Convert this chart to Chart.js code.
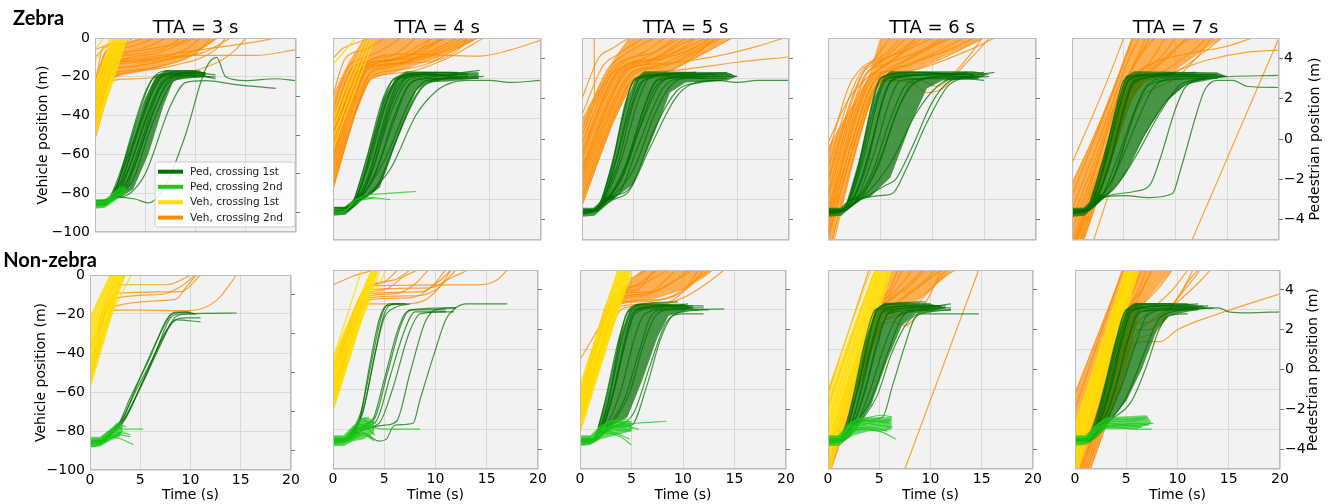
<!DOCTYPE html>
<html><head><meta charset="utf-8">
<script src="https://cdn.jsdelivr.net/npm/chart.js@4.4.1/dist/chart.umd.min.js"></script>
<style>
html,body{margin:0;padding:0;background:#fff;}
#wrap{position:relative;width:1331px;height:504px;overflow:hidden;background:#fff;}
canvas{position:absolute;}
.rowlab{position:absolute;font-family:Lato,"Open Sans",sans-serif;font-weight:bold;font-size:20px;line-height:20px;color:#000;white-space:nowrap;z-index:5;}
</style></head><body>
<div id="wrap">
<div class="rowlab" style="left:13px;top:7px">Zebra</div>
<div class="rowlab" style="right:1234px;top:249px">Non-zebra</div>
</div>
<script>
// ---------- labels / ticks ----------
const ttaValues = [3, 4, 5, 6, 7];
const rowNames = ['Zebra', 'Non-zebra'];
const timeTicks = [0, 5, 10, 15, 20];
const vehTicks = [0, -20, -40, -60, -80, -100];
const pedTicks = [-4, -2, 0, 2, 4];
const legendLabels = ['Ped, crossing 1st', 'Ped, crossing 2nd', 'Veh, crossing 1st', 'Veh, crossing 2nd'];

// ---------- data: each trajectory is a list of [time (s), position (m)] ----------
// vehicle positions on left axis (m), pedestrian positions on right axis (m)
// *_cores: outlines of the densest part of each bundle, [veh1, veh2, ped1, ped2]

// Zebra, TTA = 3 s
const z3_veh1 = [
 [[0,-50],[3.2,0]], [[0,-45],[2.9,0]], [[0,-40],[2.6,0]], [[0,-35],[2.4,0]], [[0,-30],[2.1,0]],
 [[0,-25],[1.8,0]], [[0,-12],[1.6,0]], [[0,-6],[0.9,0]]
];
const z3_veh2 = [
 [[0,-48],[1.5,-18],[2.5,-12],[6,-8],[9,-2],[10,0]],
 [[0,-40],[1.4,-12],[3,-9],[7,-5],[8.5,0]],
 [[0,-35],[1.2,-10],[3,-7],[6,-3],[7,0]],
 [[0,-45],[1.8,-16],[3,-15],[8,-10],[11,-4],[12,0]],
 [[0,-30],[1,-8],[3,-5],[5,-2],[6,0]],
 [[0,-52],[2,-20],[3,-18],[8,-14],[12,-6],[13,0]],
 [[0,-10],[1,-5],[3,-3],[5,0]],
 [[0,-6],[2,-2],[3.5,0]],
 [[0,-42],[1.5,-14],[3,-12],[10,-9],[16,-9],[20,-6]],
 [[0,-38],[1.3,-13],[3,-11],[8,-8],[12,-5],[16,-2],[18,0]],
 [[0,-25],[0.8,-5],[2,-3],[4,0]],
 [[0,-47],[1.7,-19],[3,-17],[6,-15],[10,-8],[11.5,0]],
 [[0,-33],[1.2,-14],[3,-12],[9,-6],[10.5,0]],
 [[0,-44],[1.6,-22],[4,-21],[12,-13],[14,-6],[15,0]],
 [[0,-36],[1.3,-11],[3,-8],[5,-6],[8,-3],[9.5,0]],
 [[0,-43],[1.6,-15],[3,-13],[7,-11],[11,-7],[13.5,0]]
];
const z3_ped1 = [
 [[0,-3.5],[1,-3.5],[1.6,-3.1],[3,-1.2],[5,1.8],[6.3,3.0],[8,3.2],[10,3.2]],
 [[0,-3.6],[1,-3.6],[1.8,-3.0],[3.5,-0.8],[5.5,2.0],[6.8,3.1],[9,3.3],[11,3.2]],
 [[0,-3.4],[1.2,-3.4],[2,-3.0],[2.5,-2.6],[4,-0.3],[6,2.5],[7,3.1],[10,3.2],[12,3.1]],
 [[0,-3.5],[1.3,-3.4],[2.2,-3.1],[3,-2.6],[4.5,-0.5],[6.5,2.5],[7.6,3.0],[10,3.1]],
 [[0,-3.5],[1.5,-3.4],[2.5,-3.1],[3.3,-2.5],[5,0],[7,2.6],[8.3,3.1],[11,3.2]],
 [[0,-3.5],[1.2,-3.3],[2.5,-3.0],[3.8,-2.3],[5.5,0.3],[7.5,2.6],[9,3.0],[12,3.0]],
 [[0,-3.6],[1,-3.5],[2,-3.1],[2.3,-2.5],[3.5,-0.2],[5,2.2],[6.2,3.1],[9,3.2]],
 [[0,-3.5],[1,-3.4],[2,-3.2],[4,-3.3],[5.3,-3.5],[7,-2.6],[9,0],[11,3.4],[12.1,4.0],[13,3.0],[15,2.8],[18,2.9],[20,2.8]],
 [[0,-3.5],[1.5,-3.3],[3.5,-3.0],[5,-2.0],[7.5,1.5],[9,2.7],[11,2.8],[14,2.6],[18,2.4]],
 [[0,-3.5],[1,-3.5],[2,-3.0],[3,-1.8],[4.8,1.2],[6,2.7],[7,3.1],[9.5,3.2]],
 [[0,-3.6],[1.3,-3.5],[2.3,-3.0],[3.2,-2],[5,0.8],[6.7,2.8],[8,3.1],[11.5,3.0]],
 [[0,-3.4],[1.4,-3.3],[2.4,-3.0],[4,-1.5],[6,1.5],[7.8,2.9],[10,3.1],[12,2.9]],
 [[0,-3.6],[1.1,-3.6],[1.9,-3.0],[2.7,-1.8],[4.3,1.0],[5.6,2.8],[7,3.3],[10.5,3.3]],
 [[0,-3.5],[1.2,-3.4],[2.2,-3.0],[3.6,-1.4],[5.7,1.6],[7.2,2.9],[9.5,3.2],[11,3.1]]
];
const z3_ped2 = [
 [[0,-3.6],[1,-3.6],[2,-3.2],[3,-2.8]],
 [[0,-3.4],[1,-3.5],[1.8,-3.0],[2.8,-2.7]],
 [[0,-3.5],[1.2,-3.4],[2.2,-3.1],[3.2,-2.9]],
 [[0,-3.7],[0.8,-3.7],[1.6,-3.3],[2.5,-3.0]],
 [[0,-3.5],[1,-3.4],[2,-3.0],[2.6,-2.6]]
];
const z3_cores = [
 [[[0,-50],[3.2,0],[1.6,0],[0,-22]]],
 [[[0,-50],[1.6,-21],[3,-19],[6,-16],[9,-11],[11.5,-3],[12.3,0],[4.5,0],[3,-2],[2,-3.5],[1,-6],[0,-20]]],
 [[[1.5,-3.2],[2.3,-2.4],[3.5,-0.5],[5,1.8],[6,3.0],[7,3.35],[10,3.35],[11,3.2],[11,3.0],[9,2.9],[7.8,2.8],[6.8,1.5],[5.3,-1.0],[3.8,-2.8],[2.6,-3.2]]],
 [[[0,-3.3],[1,-3.3],[2,-2.9],[3,-2.6],[3.2,-2.9],[2,-3.4],[1,-3.75],[0,-3.8]]]
];

// Zebra, TTA = 4 s
const z4_veh1 = [
 [[0,-55],[4,0]], [[0,-50],[3.7,0]], [[0,-45],[3.4,0]], [[0,-40],[3.1,0]], [[0,-13],[2.2,0]]
];
const z4_veh2 = [
 [[0,-75],[2,-40],[3.5,-18],[5,-15],[10,-8],[14,0]],
 [[0,-65],[2,-32],[3.3,-16],[6,-13],[10,-5],[12,0]],
 [[0,-55],[2,-24],[3,-15],[6,-11],[9,-4],[10.5,0]],
 [[0,-45],[1.8,-18],[3,-12],[6,-8],[8,0]],
 [[0,-35],[1.5,-14],[3,-10],[5,-5],[6.5,0]],
 [[0,-28],[1.2,-10],[3,-6],[5,0]],
 [[0,-70],[2.2,-35],[3.8,-20],[7,-17],[11,-10],[14.5,0]],
 [[0,-60],[2,-28],[3.5,-14],[8,-10],[12,-3],[13,0]],
 [[0,-50],[2,-22],[3.5,-11],[7,-8],[14,-9],[17,-6],[20,-1]],
 [[0,-40],[1.7,-16],[3.2,-12],[7,-10],[10,-2],[11,0]],
 [[0,-73],[2.1,-38],[3.7,-19],[6,-16],[9,-13],[12,-5],[13.5,0]],
 [[0,-58],[2,-26],[3.4,-13],[5,-11],[8,-7],[9.5,0]],
 [[0,-52],[1.9,-21],[3.3,-14],[9,-12],[12,-6],[13,0]],
 [[0,-10],[1,-5],[2.5,-2],[3.5,0]],
 [[0,-68],[2.1,-33],[3.6,-17],[5,-14],[8,-10],[11,-4],[12.5,0]],
 [[0,-62],[2,-30],[3.4,-15],[7,-12],[9.5,-4],[10.5,0]],
 [[0,-47],[1.9,-20],[3.2,-13],[6,-10],[8.5,-3],[9.5,0]]
];
const z4_ped1 = [
 [[0,-3.6],[1,-3.6],[2,-3.0],[3.2,-1.0],[4.8,2],[6,3.0],[9,3.2],[12,3.1]],
 [[0,-3.5],[1.2,-3.5],[2.3,-3.0],[3,-2.5],[4.5,0],[6.2,2.6],[7.5,3.1],[11,3.3],[13,3.2]],
 [[0,-3.7],[1.1,-3.6],[2.5,-2.9],[3.5,-2],[5.5,1.2],[7,2.8],[8.5,3.1],[13,3.2]],
 [[0,-3.5],[1.2,-3.4],[2.7,-2.9],[4.2,-1.5],[6,1.3],[7.5,2.8],[9,3.0],[14,3.0]],
 [[0,-3.6],[1,-3.6],[2.6,-3.0],[4.5,-2.2],[6.5,0.5],[8.5,2.5],[10,2.9],[14.5,3.1]],
 [[0,-3.6],[1.3,-3.5],[3,-2.9],[5.5,-1.5],[8,1.2],[10,2.4],[11.5,2.8],[13,2.9],[15,2.9],[17,2.8],[20,2.9]],
 [[0,-3.5],[1,-3.5],[2,-3.1],[2.8,-2.2],[4,0],[5.5,2.4],[6.5,3.1],[9,3.3],[12,3.3]],
 [[0,-3.6],[1.2,-3.5],[2.4,-3.0],[3.8,-1.5],[5.5,1.5],[6.8,2.9],[8,3.2],[10.5,3.2],[14.1,3.4]],
 [[0,-3.4],[1.1,-3.4],[2.2,-3.0],[3.4,-1.8],[5.3,1.6],[6.5,3.0],[10,3.2]],
 [[0,-3.6],[1.2,-3.6],[2.5,-3.0],[5,-1.0],[7.5,2.0],[9,2.9],[12.5,3.0]],
 [[0,-3.5],[1.3,-3.4],[2.6,-2.9],[4,-2.5],[6,-0.2],[8,2.2],[9.5,2.9],[13,3.1]],
 [[0,-3.5],[1,-3.5],[2.1,-3.0],[3.6,-1.0],[5,1.6],[6.3,3.0],[8.5,3.2],[11.5,3.1]],
 [[0,-3.6],[1.1,-3.5],[2.2,-3.0],[3.1,-1.6],[4.4,1.0],[5.7,2.9],[7,3.2],[10,3.3]],
 [[0,-3.5],[1.2,-3.5],[2.5,-3.0],[3.9,-1.9],[5.8,0.8],[7.2,2.6],[8.8,3.0],[12,3.2]]
];
const z4_ped2 = [
 [[0,-3.6],[1,-3.6],[2,-3.1],[3,-2.8],[5,-2.7],[8,-2.6]],
 [[0,-3.5],[1.2,-3.5],[2.2,-3.0],[3.5,-2.9],[5.5,-3.0]],
 [[0,-3.7],[1,-3.6],[2.4,-3.1],[4,-2.9]]
];
const z4_cores = [
 [],
 [[[0,-75],[2,-40],[3.6,-20],[6,-17],[10,-10],[13,-3],[14,0],[3,0],[1.5,-12],[0,-28]]],
 [[[2,-3.0],[3.2,-1.0],[4.8,2.0],[6,3.0],[7,3.35],[12,3.3],[14,3.3],[14,3.0],[11,2.85],[9,2.8],[8,2.4],[6,-0.2],[4.5,-2.4],[3,-3.0]],
  [[0,-3.35],[1.1,-3.35],[2,-3.0],[2.6,-2.7],[3,-2.9],[2.2,-3.3],[1.2,-3.75],[0,-3.8]]],
 []
];

// Zebra, TTA = 5 s
const z5_veh1 = [];
const z5_veh2 = [
 [[0,-83],[3,-42],[5,-22],[8,-17],[12,-7],[14.5,0]],
 [[0,-75],[3,-35],[4.7,-19],[8,-14],[11,-6],[13,0]],
 [[0,-68],[3,-28],[4.5,-16],[7,-12],[10,-4],[11,0]],
 [[0,-60],[3,-22],[4.3,-14],[6,-10],[8.5,-3],[9.5,0]],
 [[0,-52],[2.8,-18],[4,-12],[6,-7],[8,0]],
 [[0,-45],[2.4,-16],[3.6,-10],[5.5,-4],[7,0]],
 [[0,-38],[2,-14],[3.5,-8],[5,-3],[6,0]],
 [[0,-78],[3,-38],[5,-20],[9,-16],[15,-12],[20,-9.4]],
 [[0,-70],[3,-31],[4.8,-17],[7,-14],[13,-9],[17,-4],[19.5,0]],
 [[0,-64],[3,-25],[4.4,-15],[9,-12],[12,-4],[13.5,0]],
 [[0,-56],[2.9,-20],[4.2,-13],[7,-10],[10,-2],[11,0]],
 [[0,-80],[3,-40],[5,-21],[7,-19],[10,-12],[12,-4],[13,0]],
 [[0,-48],[2.6,-17],[4,-11],[7,-7],[9,0]],
 [[0,-30],[1.6,-10],[3,-5],[4.5,0]],
 [[1.18,0],[1.2,-32],[1.8,-26],[3,-17],[6,-12],[10,-5],[12,0]],
 [[0,-72],[3,-33],[4.6,-18],[6.5,-15],[9.5,-9],[12.5,0]],
 [[0,-66],[3,-27],[4.4,-15],[6,-13],[8,-7],[10,0]],
 [[0,-58],[2.9,-21],[4.2,-14],[8,-10],[11.5,-3],[12.3,0]]
];
const z5_ped1 = [
 [[0,-3.6],[1,-3.6],[1.8,-3.1],[3,-1.0],[4.2,1.8],[5.2,3.0],[8,3.2],[12,3.1]],
 [[0,-3.6],[1.1,-3.6],[2,-3.0],[3.3,-1.5],[5,1.8],[6,2.9],[9,3.2],[13,3.2]],
 [[0,-3.5],[1.2,-3.5],[2.2,-3.0],[3.8,-1.0],[5.5,2.0],[6.5,3.0],[10,3.2],[14,3.3]],
 [[0,-3.7],[1,-3.6],[2.5,-2.9],[4.3,-1.2],[6.2,1.8],[7.3,2.9],[11,3.1],[15,3.1]],
 [[0,-3.6],[1.2,-3.5],[3,-2.8],[5,-1.5],[7,1.2],[8.5,2.6],[10,3.0],[14,3.0]],
 [[0,-3.6],[1.3,-3.5],[3,-3.0],[4.5,-2.6],[6.5,-0.5],[9,2.0],[10.5,2.7],[13,2.9],[15,2.8],[17,2.9],[20,2.9]],
 [[0,-3.5],[1,-3.5],[1.9,-3.0],[2.7,-1.8],[4,1.2],[5,2.9],[7,3.2],[11,3.3]],
 [[0,-3.6],[1.1,-3.6],[2.3,-3.0],[3.5,-2.3],[5.8,0.8],[7.5,2.7],[9,3.1],[12.5,3.2]],
 [[0,-3.6],[1.2,-3.5],[2.8,-2.9],[4.8,-2.3],[7,0.5],[9.2,2.4],[11.5,2.8],[13.5,2.9]],
 [[0,-3.5],[1,-3.5],[2.1,-3.0],[3.2,-1.2],[4.6,1.7],[5.6,3.0],[9,3.2],[14.5,3.2]],
 [[0,-3.6],[1.2,-3.6],[2.6,-2.9],[4,-1.6],[6,1.6],[7,2.8],[8.5,3.1],[12,3.0]],
 [[0,-3.7],[1.1,-3.6],[2.4,-3.0],[3.7,-2.6],[5.3,-0.5],[7.8,2.5],[9.5,3.0],[13,3.1]],
 [[0,-3.6],[1.1,-3.6],[2,-3.1],[3,-1.6],[4.5,1.2],[5.7,2.8],[8,3.2],[11,3.3]],
 [[0,-3.5],[1.2,-3.5],[2.4,-3.0],[4,-1.8],[5.8,0.9],[7,2.5],[8.5,3.0],[13.5,3.1]]
];
const z5_ped2 = [];
const z5_cores = [
 [],
 [[[0,-83],[3,-42],[5,-21],[8,-17],[12,-7],[14.5,0],[4.5,0],[3,-11],[0,-40]]],
 [[[1.8,-3.1],[3,-1.0],[4.2,1.8],[5.2,3.0],[6,3.35],[14,3.3],[15,3.1],[14,2.9],[10,2.8],[8.5,2.3],[7,0.3],[5,-2.2],[3,-3.0]],
  [[0,-3.4],[1.1,-3.4],[2,-3.0],[2.8,-2.7],[3.2,-2.9],[2.3,-3.3],[1.2,-3.8],[0,-3.85]]],
 []
];

// Zebra, TTA = 6 s
const z6_veh1 = [];
const z6_veh2 = [
 [[0,-100],[2,-62],[4,-30],[5.2,-20],[8,-13],[12,-5],[14,0]],
 [[0,-95],[2,-57],[4,-26],[5,-18],[7,-12],[10,-4],[11.5,0]],
 [[0,-88],[2,-50],[3.8,-22],[5,-15],[7,-8],[9,0]],
 [[0,-80],[2,-43],[3.6,-19],[5,-12],[6.5,-5],[7.5,0]],
 [[0,-72],[2,-36],[3.4,-17],[4.5,-10],[6,0]],
 [[0,-65],[2,-30],[3.3,-16],[5,-11],[8,-5],[10,0]],
 [[0,-58],[2,-24],[3.2,-15],[5.5,-8],[7,0]],
 [[0.4,-100],[2.5,-58],[4.3,-28],[5.5,-20],[9,-15],[14,-5],[16,0]],
 [[0,-98],[2.2,-58],[4.2,-27],[5.5,-21],[8,-22],[9.5,-27],[11,-25],[13,-14],[15,-3],[15.5,0]],
 [[0,-85],[2,-47],[3.8,-21],[6,-16],[10,-8],[13,0]],
 [[0,-77],[2,-40],[3.6,-18],[5.5,-13],[9,-6],[11,0]],
 [[0,-52],[2,-30],[3.7,-20],[6,-12],[8.5,0]],
 [[0.6,-100],[3,-50],[5,-22],[7,-18],[11,-10],[15,0]],
 [[0,-92],[2.1,-55],[4,-25],[5.3,-19],[9,-21],[10.5,-24],[12,-18],[14,-6],[14.8,0]],
 [[0,-90],[2,-52],[3.9,-23],[5.5,-17],[8,-10],[11,-2],[12,0]],
 [[0,-70],[2,-34],[3.4,-17],[5,-12],[7,-6],[8.5,0]]
];
const z6_ped1 = [
 [[0,-3.6],[1.2,-3.6],[2,-3.0],[3.2,-0.8],[4.5,2.2],[5.3,3.1],[9,3.3],[13,3.2]],
 [[0,-3.6],[1,-3.6],[2.2,-2.9],[3.5,-0.8],[5,2.3],[5.8,3.0],[10,3.2],[14,3.2]],
 [[0,-3.7],[1.3,-3.6],[2.6,-2.8],[4,-0.6],[5.5,2.3],[6.4,3.0],[11,3.2],[15,3.3]],
 [[0,-3.6],[1.2,-3.5],[2.8,-2.9],[4.5,-0.6],[6,2.0],[7,2.9],[12,3.0],[15.5,3.1]],
 [[0,-3.6],[1.4,-3.5],[3.2,-2.9],[5,-1.0],[7,1.8],[8.2,2.8],[12,3.1],[14.5,3.0]],
 [[0,-3.6],[1.3,-3.5],[3.5,-2.9],[5.5,-2.3],[6.5,-2.0],[8,-0.5],[10,1.8],[11.5,2.8],[13,3.0],[15,2.9]],
 [[0,-3.7],[1.2,-3.6],[3,-3.0],[5,-2.8],[6.2,-2.7],[7.5,-1.5],[9.5,0.8],[11.5,2.6],[12.8,3.0],[16,3.3]],
 [[0,-3.6],[1.1,-3.6],[1.9,-3.1],[2.8,-1.6],[4.2,1.7],[5,3.0],[8,3.3],[12,3.2]],
 [[0,-3.5],[1.2,-3.5],[2.4,-3.0],[3.8,-1.2],[5.2,1.8],[6.2,2.9],[9.5,3.2],[13.5,3.3]],
 [[0,-3.6],[1.3,-3.6],[3,-2.9],[4.8,-1.4],[6.5,1.2],[8,2.6],[9.5,3.0],[14,3.1]],
 [[0,-3.6],[1.5,-3.5],[3.5,-2.8],[6,-1.2],[8.5,1.3],[10.5,2.6],[12,3.0],[15,3.1]],
 [[0,-3.6],[1.2,-3.5],[2.2,-3.1],[3.3,-1.8],[4.8,1.0],[5.8,2.7],[7,3.1],[12.5,3.2]],
 [[0,-3.5],[1.1,-3.5],[2.1,-3.0],[3,-1.5],[4.4,1.5],[5.4,2.9],[8.5,3.2],[13,3.2]],
 [[0,-3.6],[1.3,-3.6],[2.9,-2.9],[4.3,-1.6],[6,1.0],[7.4,2.6],[9,3.0],[14,3.2]]
];
const z6_ped2 = [];
const z6_cores = [
 [],
 [[[0.5,-100],[2.5,-58],[4.3,-28],[5.5,-20],[9,-14],[13,-5],[15,0],[5,0],[3.9,-19],[0,-54],[0,-100]]],
 [[[1.8,-3.1],[3,-1.0],[4.4,2.0],[5.3,3.05],[6,3.35],[14,3.35],[15.5,3.2],[14,2.95],[11,2.9],[9.5,2.5],[8,0.8],[6,-1.9],[4,-2.9]],
  [[0,-3.4],[1.2,-3.4],[2,-3.0],[2.8,-2.8],[3.2,-3.0],[2.3,-3.3],[1.3,-3.8],[0,-3.85]]],
 []
];

// Zebra, TTA = 7 s
const z7_veh1 = [];
const z7_veh2 = [
 [[0,-72],[2,-50],[4,-25],[5.8,0]],
 [[0,-85],[2.5,-52],[4.5,-24],[5.5,-10],[6.5,0]],
 [[0,-95],[2.5,-60],[4.8,-27],[6,-14],[7.5,0]],
 [[0.3,-100],[3,-62],[5,-32],[6,-20],[7.5,-12],[9,0]],
 [[0.6,-100],[3.2,-62],[5.2,-33],[6.3,-22],[8,-15],[10,-6],[11,0]],
 [[0.9,-100],[3.5,-63],[5.5,-33],[6.5,-23],[9,-16],[12,-5],[13,0]],
 [[1.1,-100],[3.7,-62],[5.8,-30],[7,-22],[10,-17],[13,-6],[14.5,0]],
 [[0.2,-100],[2.8,-62],[5,-30],[6.2,-18],[8,-12],[11,-8],[15,-4],[17.4,0]],
 [[0.5,-100],[3,-60],[5,-30],[6.4,-21],[9,-18],[13,-11],[17,-7],[20,-6]],
 [[2.1,-100],[4,-70],[6,-38],[7,-28],[8,-25],[10,-20],[12,-10],[13.5,0]],
 [[11.6,-100],[20,0]],
 [[0,-100],[2.3,-65],[4.3,-32],[5.5,-18],[6.7,-5],[7.1,0]],
 [[0,-78],[2.2,-50],[4.3,-22],[5.3,-8],[5.9,0]],
 [[0.8,-100],[3.4,-60],[5.3,-30],[6.5,-20],[8.5,-12],[10.5,-3],[11.5,0]],
 [[0,-62],[1.7,-42],[3.5,-20],[5,0]],
 [[0,-90],[2.4,-58],[4.6,-27],[5.8,-15],[7,-6],[8,0]],
 [[0.4,-100],[3.1,-61],[5.1,-31],[6.3,-19],[8.5,-10],[10,0]]
];
const z7_ped1 = [
 [[0,-3.6],[1,-3.6],[1.8,-3.1],[3,-1],[4.5,1.8],[5.3,3.1],[9,3.2],[13,3.1]],
 [[0,-3.6],[1.1,-3.6],[2.1,-3.0],[3.4,-0.8],[4.8,2.0],[5.6,3.0],[10,3.2],[14,3.2]],
 [[0,-3.7],[1.2,-3.6],[2.4,-3.0],[3.8,-0.8],[5.2,1.9],[6,2.9],[11,3.2],[15,3.1]],
 [[0,-3.5],[1,-3.5],[2,-3.1],[3.2,-1.2],[4.6,1.6],[5.5,2.9],[8,3.2],[12,3.3]],
 [[0,-3.6],[1.3,-3.5],[2.8,-2.9],[4.5,-0.8],[6.2,1.6],[7.5,2.7],[11,3.0],[14.5,3.1]],
 [[0,-3.6],[1.2,-3.6],[3,-2.9],[5,-1.8],[7,0.2],[9,1.8],[11,2.7],[13,3.0],[20,3.15]],
 [[0,-3.6],[1.4,-3.5],[3,-2.9],[5,-2.8],[7.5,-2.9],[9.7,-2.7],[10.5,-1.5],[12,1.2],[12.8,2.4],[14,2.9],[15.5,2.9],[17,2.6],[20,2.55]],
 [[0,-3.6],[1.3,-3.5],[3,-2.9],[6,-2.6],[7.5,-2.3],[8.5,-1.0],[10,1.5],[11,2.6],[13,3.0]],
 [[0,-3.6],[1.2,-3.5],[2.6,-3.0],[4,-2.5],[6,-1],[8.5,1.3],[10.5,2.7],[13,3.0]],
 [[0,-3.5],[1.1,-3.5],[2.2,-3.0],[3.6,-1.3],[5,1.4],[6,2.8],[9,3.1],[12.5,3.1]],
 [[0,-3.6],[1.2,-3.6],[2.7,-3.0],[4.2,-1.7],[6,0.5],[7.8,2.5],[9,2.9],[14,3.0]],
 [[0,-3.7],[1,-3.6],[1.9,-3.1],[2.8,-1.8],[4.1,1.2],[5,2.9],[7,3.2],[10,3.3]],
 [[0,-3.6],[1.1,-3.6],[2.3,-3.0],[3.5,-1.5],[4.9,1.2],[5.9,2.8],[8,3.1],[12,3.2]],
 [[0,-3.5],[1.2,-3.5],[2.5,-3.0],[4,-1.9],[5.6,0.6],[6.9,2.4],[8.5,3.0],[13.5,3.1]]
];
const z7_ped2 = [];
const z7_cores = [
 [],
 [[[0,-100],[1.2,-100],[3.7,-62],[5.8,-30],[7,-22],[10,-16],[13,-5],[14.5,0],[5.8,0],[4,-25],[2,-50],[0,-72]]],
 [[[1.7,-3.1],[3,-1.0],[4.4,1.8],[5.2,3.1],[6,3.35],[14,3.3],[15,3.1],[13,2.9],[11,2.7],[9,1.8],[7,0.2],[5,-1.8],[3.2,-2.9]],
  [[0,-3.4],[1.1,-3.4],[2,-3.0],[2.8,-2.7],[3.2,-2.9],[2.3,-3.3],[1.2,-3.8],[0,-3.85]]],
 []
];

// Non-zebra, TTA = 3 s
const n3_veh1 = [
 [[0,-58],[3.3,0]], [[0,-50],[3.0,0]], [[0,-45],[2.8,0]], [[0,-40],[2.6,0]], [[0,-35],[2.5,0]],
 [[0,-30],[2.4,0]], [[0,-25],[2.2,0]], [[0,-48],[3.5,0]], [[0,-42],[4.1,0]], [[0,-22],[2.0,0]],
 [[0,-55],[3.1,0]], [[0,-38],[2.9,0]]
];
const n3_veh2 = [
 [[0,-55],[2.3,-18],[5,-18],[9.8,-18.3],[12.6,-13],[14.6,0]],
 [[0,-52],[2.5,-16],[8.5,-12.5],[9.6,-6],[10.6,0]],
 [[0,-45],[2.5,-9.5],[9.1,-8.5],[11,0]],
 [[0,-40],[2.6,-5],[7.6,-5],[10.1,0]],
 [[0,-38],[2.7,-7],[3.5,0]],
 [[0,-48],[2.4,-12],[7,-10],[9,-6],[10.5,0]]
];
const n3_ped1 = [
 [[0,-3.6],[1,-3.6],[2,-3.1],[2.8,-2.7],[4,-1.3],[6,0.8],[7.6,2.7],[8.5,3.1],[10,3.1]],
 [[0,-3.5],[1.2,-3.5],[2.2,-3.0],[3,-2.6],[4.5,-1.0],[6.5,1.0],[8,2.8],[9,3.0],[10.5,3.0]],
 [[0,-3.6],[1.1,-3.6],[2.4,-3.0],[3.3,-2.5],[5,-0.8],[7,1.4],[8.4,2.8],[9.5,3.0],[14.6,3.05]],
 [[0,-3.6],[1.3,-3.5],[2.6,-2.9],[3.6,-2.2],[5.5,-0.2],[7.3,1.9],[8.5,2.7],[9.5,2.8],[11,2.8]],
 [[0,-3.5],[1,-3.5],[2.2,-2.9],[3.2,-2.4],[4.8,-0.5],[6.8,1.8],[8.2,3.0],[9.5,3.1],[10.5,3.0]],
 [[0,-3.6],[1.2,-3.5],[2.5,-3.0],[3.5,-2.4],[5.2,-0.5],[7.1,1.6],[8.6,2.7],[11,2.6]]
];
const n3_ped2 = [
 [[0,-3.6],[1,-3.6],[2,-3.1],[3,-2.9],[5.3,-2.9]],
 [[0,-3.5],[1,-3.6],[2,-3.3],[3,-3.4],[4.3,-3.7]],
 [[0,-3.6],[1.2,-3.5],[2.2,-3.0],[3.2,-2.8]],
 [[0,-3.7],[0.8,-3.7],[1.8,-3.2],[2.8,-2.6],[3.2,-2.7]],
 [[0,-3.5],[1,-3.4],[2,-3.0],[3,-3.1]],
 [[0,-3.8],[1,-3.7],[2,-3.4],[3,-3.2],[4,-3.3]],
 [[0,-3.4],[1.1,-3.4],[2.1,-3.0],[2.9,-2.8],[3.1,-2.5]],
 [[0,-3.6],[1,-3.5],[1.7,-3.3],[2.5,-3.2],[3.3,-3.0]],
 [[0,-3.5],[1.1,-3.6],[2.1,-3.2],[3.1,-2.7],[3.6,-2.8]],
 [[0,-3.7],[1.2,-3.6],[2.3,-3.3],[3.3,-3.1],[4,-3.2]]
];
const n3_cores = [
 [[[0,-58],[3.4,0],[2.0,0],[0,-22]]],
 [],
 [],
 [[[0,-3.3],[1,-3.3],[2,-2.9],[3,-2.6],[3.3,-2.8],[3,-3.3],[2,-3.5],[1,-3.8],[0,-3.85]]]
];

// Non-zebra, TTA = 4 s
const n4_veh1 = [
 [[0,-70],[4.3,0]], [[0,-65],[4.1,0]], [[0,-60],[4.0,0]], [[0,-55],[3.9,0]], [[0,-50],[3.8,0]],
 [[0,-45],[3.8,0]], [[0,-62],[4.6,0]], [[0,-52],[5.2,0]], [[0,-45],[2.8,0]], [[0,-67],[4.4,0]],
 [[0,-57],[4.2,0]]
];
const n4_veh2 = [
 [[0,-7.5],[2,-3],[4,0]],
 [[0,-70],[3.4,-17],[7,-17],[9,-15],[10.5,-8],[11.5,0]],
 [[0,-65],[3.4,-14],[8,-13],[10,-10],[12,0]],
 [[0,-60],[3.3,-12],[8.5,-11],[10.5,-5],[11.5,0]],
 [[0,-55],[3.3,-10],[9.5,-9],[11.5,-4],[13.2,0]],
 [[0,-58],[3.6,-8],[14,-7.5],[16,-5],[17,0]],
 [[0,-50],[3.3,-12],[5,-10],[7,-3],[8.3,0]],
 [[0,-52],[3.2,-10],[5,-6],[6.3,0]],
 [[0,-62],[3.5,-15],[7.5,-14],[9.5,-9],[11,0]],
 [[0,-48],[3.3,-9],[6,-5],[7.5,0]],
 [[0,-66],[3.5,-13],[6,-12],[8,-7],[9.3,0]]
];
const n4_ped1 = [
 [[0,-3.6],[1,-3.6],[2,-3.0],[2.6,-2.5],[3.5,0],[4.5,2.5],[5.2,3.2],[7.2,3.3]],
 [[0,-3.5],[1.2,-3.5],[2.2,-2.8],[2.8,-2.0],[3.8,0.5],[4.8,2.8],[5.5,3.3],[6.5,3.3]],
 [[0,-3.6],[1,-3.6],[2.4,-2.8],[3.2,-1.5],[4.2,1.0],[5,2.6],[6,3.1],[7.5,3.3]],
 [[0,-3.6],[1.2,-3.5],[2.5,-2.9],[3.8,-2.6],[5,-0.5],[6.2,1.8],[7,2.8],[8,3.0],[11,3.0]],
 [[0,-3.5],[1.1,-3.5],[2.5,-2.8],[4,-2.5],[5.3,-0.2],[6.6,2.2],[7.5,3.0],[12,3.1]],
 [[0,-3.6],[1.2,-3.6],[2.8,-2.9],[4.2,-2.6],[5.6,-0.3],[7,2.0],[8,2.9],[11.8,2.9]],
 [[0,-3.6],[1.3,-3.5],[3,-3.0],[5,-2.8],[6.2,-2.6],[7.5,-0.2],[9,2.4],[10,3.0],[12,3.1]],
 [[0,-3.7],[1.3,-3.6],[3,-3.2],[4.5,-3.6],[5.2,-3.5],[6,-2.8],[7.8,-2.7],[8.5,-1.5],[10,1.0],[11,2.5],[12,3.1],[13,3.3],[17,3.3]],
 [[0,-3.6],[1.2,-3.5],[2.7,-3.0],[4.5,-2.7],[5.8,-1.0],[7.4,1.8],[8.5,2.8],[11,2.9]],
 [[0,-3.5],[1,-3.5],[2.2,-3.0],[2.9,-2.2],[3.9,0.3],[5,2.8],[6,3.3],[7,3.3]]
];
const n4_ped2 = [
 [[0,-3.6],[1,-3.6],[2,-3.0],[3,-2.6],[4.2,-2.7]],
 [[0,-3.5],[1,-3.5],[2.2,-3.1],[3.5,-2.9],[5,-3.0],[8.5,-3.0]],
 [[0,-3.7],[1,-3.7],[2,-3.3],[3,-3.2],[4,-3.6]],
 [[0,-3.4],[1,-3.4],[2,-2.9],[2.8,-2.5],[3.6,-2.7]],
 [[0,-3.6],[1.2,-3.6],[2.3,-3.2],[3.3,-3.0],[4.1,-3.3]],
 [[0,-3.8],[1,-3.8],[2,-3.5],[3,-3.3],[3.8,-3.5]],
 [[0,-3.5],[1,-3.5],[1.8,-3.1],[2.5,-2.6],[3.5,-2.4]],
 [[0,-3.6],[1.1,-3.6],[2.4,-3.2],[3.2,-3.0],[4.2,-2.9]],
 [[0,-3.7],[1.1,-3.6],[2.2,-3.1],[3.1,-2.8],[4,-3.0]]
];
const n4_cores = [
 [[[0,-72],[4.4,0],[3.7,0],[0,-43]]],
 [],
 [],
 [[[0,-3.3],[1,-3.3],[2,-2.8],[3,-2.4],[4,-2.5],[4,-3.2],[3,-3.5],[2,-3.6],[1,-3.8],[0,-3.85]]]
];

// Non-zebra, TTA = 5 s
const n5_veh1 = [
 [[0,-82],[4.9,0]], [[0,-78],[4.7,0]], [[0,-74],[4.5,0]], [[0,-70],[4.3,0]], [[0,-66],[4.1,0]],
 [[0,-62],[3.9,0]], [[0,-58],[3.7,0]], [[0,-76],[5.1,0]], [[0,-68],[4.6,0]], [[0,-80],[4.4,0]],
 [[0,-72],[4.2,0]], [[0,-64],[4.4,0]]
];
const n5_veh2 = [
 [[0,-45],[2.9,-20],[4,-12],[6,-6],[7.5,0]],
 [[0,-75],[4,-15],[6,-13],[8,-9],[10,-3],[11,0]],
 [[0,-70],[3.8,-12],[7,-11],[9,-6],[10.5,0]],
 [[0,-72],[3.9,-17],[6,-16],[9,-13],[11.5,-4],[12.5,0]],
 [[0,-66],[3.7,-10],[5.5,-8],[7.5,-3],[8.5,0]],
 [[0,-78],[4.3,-19],[7,-18],[10,-14],[12.5,-6],[14,0]],
 [[0,-68],[3.6,-14],[6.5,-12],[8.5,-4],[9.3,0]],
 [[0,-62],[3.4,-8],[5,-4],[6.5,0]],
 [[0,-74],[4.1,-18],[8,-17],[10,-11],[11.5,0]],
 [[0,-64],[3.5,-12],[5.5,-10],[7.2,0]],
 [[0,-76],[4.2,-16],[7.5,-15],[10.5,-9],[12,0]]
];
const n5_ped1 = [
 [[0,-3.6],[1,-3.6],[1.8,-2.9],[2.6,-1.2],[3.8,1.6],[4.8,3.0],[7,3.3],[10,3.2]],
 [[0,-3.6],[1.1,-3.6],[2,-2.9],[3,-1.0],[4.2,1.8],[5.1,3.0],[8,3.2],[11,3.1]],
 [[0,-3.5],[1.2,-3.5],[2.3,-2.8],[3.4,-0.8],[4.7,2.0],[5.5,3.0],[9,3.2],[12,3.2]],
 [[0,-3.6],[1.2,-3.6],[2.6,-2.8],[4,-1.0],[5.3,1.6],[6.3,2.8],[9,3.1],[11.5,3.0]],
 [[0,-3.7],[1.3,-3.6],[3,-2.8],[4.8,-1.2],[6.2,1.3],[7.2,2.6],[8.5,3.0],[12.5,3.0]],
 [[0,-3.6],[1.3,-3.5],[3.2,-2.9],[5.2,-2.2],[6.8,0.2],[8.2,2.2],[9,2.7],[10,2.8],[12,2.8]],
 [[0,-3.6],[1.2,-3.6],[3,-2.9],[5,-2.8],[6.5,-0.8],[7.8,1.5],[8.8,2.6],[10,2.9],[14,3.05]],
 [[0,-3.6],[1,-3.6],[1.9,-3.0],[2.8,-1.6],[3.6,0.8],[4.5,2.8],[6,3.3],[9.5,3.4]],
 [[0,-3.5],[1.1,-3.5],[2.2,-2.9],[3.2,-1.3],[4.4,1.3],[5.3,2.8],[7.5,3.1],[10.5,3.3]],
 [[0,-3.6],[1.2,-3.6],[2.8,-2.8],[4.3,-1.5],[5.8,1.0],[6.8,2.6],[8,3.0],[12,3.1]],
 [[0,-3.5],[1.1,-3.5],[2.1,-2.9],[3.1,-1.4],[4.3,1.4],[5.2,2.9],[8,3.2],[11,3.2]]
];
const n5_ped2 = [
 [[0,-3.6],[1,-3.6],[2,-3.0],[3,-2.6],[4,-2.7],[5,-2.8]],
 [[0,-3.5],[1,-3.5],[2.2,-3.0],[3.5,-2.8],[5.5,-2.7],[8.4,-2.6]],
 [[0,-3.7],[1,-3.7],[2.5,-3.2],[4,-3.4],[5,-3.8]],
 [[0,-3.6],[1.2,-3.6],[2.5,-3.0],[3.8,-2.8],[5.7,-3.0]],
 [[0,-3.4],[1,-3.4],[2,-2.9],[3,-2.6],[4.6,-2.5]],
 [[0,-3.6],[1,-3.6],[2.3,-3.1],[3.5,-3.2],[4.8,-3.5]],
 [[0,-3.8],[1,-3.7],[2,-3.3],[3.2,-3.0],[4.5,-3.1],[5.2,-2.9]],
 [[0,-3.5],[1.1,-3.5],[2.4,-3.0],[3.6,-2.9],[5,-3.1]],
 [[0,-3.6],[1.2,-3.6],[2.3,-3.1],[3.4,-2.7],[4.9,-2.6]]
];
const n5_cores = [
 [[[0,-82],[5.0,0],[3.6,0],[0,-58]]],
 [[[3.6,-17],[7,-15],[10,-10],[12,-4],[13,0],[6,0],[4.2,-8]]],
 [[[1.7,-2.9],[2.6,-1.2],[3.8,1.6],[4.8,3.0],[5.5,3.3],[10,3.3],[11,3.1],[10,2.9],[8.6,2.7],[7.5,1.6],[6,-0.6],[4.6,-2.4],[2.8,-2.9]]],
 [[[0,-3.3],[1,-3.3],[2,-2.8],[3,-2.5],[5,-2.6],[5,-3.1],[3.5,-3.3],[2,-3.5],[1,-3.8],[0,-3.85]]]
];

// Non-zebra, TTA = 6 s
const n6_veh1 = [
 [[0,-70],[4.6,0]], [[0,-75],[4.9,0]], [[0,-80],[5.2,0]], [[0,-85],[5.5,0]], [[0,-90],[5.8,0]],
 [[0,-95],[6.0,0]], [[0.2,-100],[6.2,0]], [[0,-82],[5.0,0]], [[0,-88],[5.3,0]], [[0,-60],[4.2,0]],
 [[0,-77],[4.8,0]], [[0,-92],[5.6,0]]
];
const n6_veh2 = [
 [[0,-68],[4.6,0]],
 [[0,-100],[3,-55],[5,-25],[6,-16],[8,-8],[9.5,0]],
 [[0.1,-100],[3.2,-55],[5.2,-25],[6.5,-18],[9,-8],[11,0]],
 [[0,-96],[3,-52],[5,-22],[6,-14],[7.5,-5],[8.2,0]],
 [[0.3,-100],[3.3,-55],[5.4,-26],[7,-22],[9,-14],[11.5,-3],[12.4,0]],
 [[0,-92],[3,-48],[4.8,-20],[6,-12],[7.3,0]],
 [[7.5,-100],[14.7,0]],
 [[0,-98],[3.1,-54],[5.3,-26],[6.5,-24],[8,-20],[10,-10],[11.5,0]],
 [[0,-88],[2.8,-45],[4.6,-18],[6,-10],[6.8,0]],
 [[0.2,-100],[3.2,-56],[5.2,-28],[6.2,-26],[7.5,-28],[8.5,-24],[10,-12],[11,0]],
 [[0,-62],[4.0,0]],
 [[0,-94],[3,-50],[5,-24],[7,-15],[9.5,-5],[10.5,0]],
 [[0,-90],[2.9,-47],[4.9,-21],[6.5,-13],[8.5,-4],[9.2,0]]
];
const n6_ped1 = [
 [[0,-3.6],[1,-3.6],[1.8,-2.7],[2.6,-1.0],[3.6,1.4],[4.6,3.0],[7,3.3],[10,3.3]],
 [[0,-3.6],[1.1,-3.6],[2,-2.8],[2.9,-0.9],[4,1.7],[4.9,3.0],[8,3.2],[11,3.2]],
 [[0,-3.5],[1.2,-3.5],[2.2,-2.8],[3.2,-1.0],[4.4,1.6],[5.3,2.9],[9,3.1],[12,3.3]],
 [[0,-3.6],[1.2,-3.6],[2.5,-2.7],[3.6,-1.0],[4.9,1.6],[5.9,2.8],[9,3.0],[11.5,3.1]],
 [[0,-3.7],[1.3,-3.6],[2.8,-2.7],[4,-1.2],[5.5,1.2],[6.7,2.6],[8,2.9],[12,3.0]],
 [[0,-3.6],[1.3,-3.6],[3.2,-2.6],[4.8,-1.3],[6.2,0.8],[7.8,2.4],[9,2.8],[14.7,2.8]],
 [[0,-3.6],[1.2,-3.5],[3,-2.6],[5.3,-2.4],[6.3,-0.8],[7.5,1.2],[8.5,2.6],[10,2.9],[12,3.0]],
 [[0,-3.5],[1,-3.5],[1.9,-2.8],[2.7,-1.4],[3.7,0.8],[4.7,2.9],[6,3.3],[9.5,3.4]],
 [[0,-3.6],[1.1,-3.6],[2.3,-2.7],[3.4,-0.8],[4.6,1.8],[5.5,3.0],[8.5,3.2],[11,3.2]],
 [[0,-3.6],[1.2,-3.6],[2.7,-2.7],[4.2,-1.5],[5.8,0.8],[7.2,2.6],[8.5,3.0],[12,3.1]],
 [[0,-3.5],[1.1,-3.5],[2.4,-2.8],[3.5,-1.3],[4.8,1.2],[5.8,2.8],[8,3.1],[11.5,3.2]]
];
const n6_ped2 = [
 [[0,-3.6],[1,-3.6],[2,-2.9],[3,-2.5],[4.5,-2.6],[6.2,-2.5]],
 [[0,-3.5],[1.1,-3.5],[2.3,-2.8],[3.5,-2.7],[5,-2.8],[6.3,-2.9]],
 [[0,-3.7],[1,-3.6],[2.5,-3.0],[4,-3.0],[5.5,-3.2],[6.6,-3.5]],
 [[0,-3.6],[1.2,-3.6],[2.6,-2.8],[4,-2.6],[6,-2.7]],
 [[0,-3.4],[1,-3.4],[2.2,-2.7],[3.4,-2.5],[5.2,-2.3],[6.3,-2.4]],
 [[0,-3.6],[1.1,-3.6],[2.4,-3.0],[3.8,-2.9],[5.8,-3.1]],
 [[0,-3.8],[1,-3.8],[2.2,-3.2],[3.5,-3.0],[5,-3.1],[6,-3.0]],
 [[0,-3.5],[1,-3.5],[2,-2.9],[3.2,-2.8],[4.8,-2.6],[6.1,-2.6]]
];
const n6_cores = [
 [[[0.2,-100],[6.2,0],[4.5,0],[0,-62],[0,-100]]],
 [[[4.8,-22],[6.5,-22],[9,-14],[11.5,-3],[12.2,0],[5.8,0]]],
 [[[1.8,-2.8],[2.6,-1.0],[3.6,1.4],[4.6,3.0],[5.5,3.35],[10,3.3],[11.5,3.1],[10,2.9],[8.5,2.8],[7.2,2.2],[5.8,0.5],[4.2,-1.8],[3,-2.8]]],
 [[[0,-3.3],[1,-3.3],[2,-2.7],[3,-2.4],[6.2,-2.4],[6.2,-3.0],[4,-3.1],[2.5,-3.3],[1,-3.8],[0,-3.85]]]
];

// Non-zebra, TTA = 7 s
const n7_veh1 = [
 [[0,-82],[5.0,0]], [[0,-88],[5.4,0]], [[0,-92],[5.6,0]], [[0,-96],[5.8,0]], [[0.3,-100],[6.2,0]],
 [[0,-85],[5.3,0]], [[0.1,-100],[5.9,0]], [[0,-78],[4.9,0]], [[0,-90],[5.5,0]], [[0,-94],[5.7,0]]
];
const n7_veh2 = [
 [[0,-62],[4.7,0]],
 [[0,-100],[3,-60],[5.2,-28],[6.5,-18],[8,-10],[9.5,0]],
 [[0.5,-100],[3.4,-60],[5.6,-30],[7,-22],[9.5,-10],[11,0]],
 [[1.0,-100],[3.8,-60],[6,-32],[7,-27],[10,-16],[12.5,-4],[13.2,0]],
 [[1.5,-100],[4.2,-62],[6.3,-36],[8.3,-36],[10,-30],[14,-22],[20,-12]],
 [[0.2,-100],[3.2,-58],[5.3,-25],[6.2,-14],[7.5,0]],
 [[0,-95],[2.8,-58],[5,-22],[6.5,-10],[7.5,0]],
 [[0.8,-100],[3.6,-58],[5.8,-28],[7.5,-26],[9,-20],[11,-8],[12.2,0]],
 [[0,-90],[2.6,-55],[4.8,-22],[6,-12],[7,0]],
 [[0.6,-100],[3.5,-59],[5.5,-30],[7.2,-30],[8.5,-25],[10,-14],[11.3,-4],[12,0]],
 [[0,-70],[4.6,0]],
 [[1.2,-100],[4,-62],[6,-35],[7.7,-32],[9,-22],[10.5,-10],[11.5,0]],
 [[0,-85],[2.5,-52],[4.7,-20],[5.8,-9],[6.5,0]]
];
const n7_ped1 = [
 [[0,-3.5],[1,-3.5],[1.8,-2.8],[2.8,-1.0],[4,1.5],[5,3.0],[8,3.3],[11,3.3]],
 [[0,-3.6],[1.1,-3.6],[2.1,-2.8],[3.1,-0.9],[4.3,1.6],[5.3,3.0],[9,3.2],[12,3.1]],
 [[0,-3.5],[1.2,-3.5],[2.4,-2.7],[3.5,-0.9],[4.7,1.7],[5.6,3.0],[10,3.1],[13,3.2]],
 [[0,-3.6],[1.2,-3.6],[2.7,-2.7],[4,-0.8],[5.3,1.7],[6.2,2.9],[10,3.0],[13.5,3.1]],
 [[0,-3.6],[1.3,-3.5],[3,-2.6],[4.5,-0.9],[6,1.4],[7,2.7],[9,3.0],[12,3.0]],
 [[0,-3.6],[1.3,-3.6],[3.2,-2.7],[5,-1.4],[6.8,0.9],[8,2.4],[9.5,2.9],[14,3.1],[15,2.9],[17,2.85],[20,2.9]],
 [[0,-3.5],[1.2,-3.5],[3.3,-2.6],[5.5,-1.6],[7,0.2],[8.2,2.0],[9.2,2.7],[11,2.8]],
 [[0,-3.5],[1,-3.5],[1.9,-2.9],[2.7,-1.5],[3.8,0.9],[4.9,2.9],[6.5,3.3],[9.5,3.3]],
 [[0,-3.6],[1.1,-3.6],[2.2,-2.8],[3.3,-1.0],[4.5,1.6],[5.4,3.0],[8,3.2],[12.5,3.2]],
 [[0,-3.6],[1.2,-3.6],[2.6,-2.7],[3.8,-1.2],[5,1.2],[6,2.7],[7.5,3.0],[11.5,3.1]],
 [[0,-3.5],[1.1,-3.5],[2.3,-2.8],[3.4,-1.1],[4.6,1.5],[5.5,2.9],[8.5,3.2],[12,3.3]]
];
const n7_ped2 = [
 [[0,-3.5],[1,-3.5],[2,-2.9],[3,-2.5],[5,-2.5],[7,-2.4]],
 [[0,-3.6],[1.1,-3.6],[2.3,-2.9],[3.5,-2.7],[5.5,-2.8],[7.7,-2.7]],
 [[0,-3.6],[1,-3.6],[2.5,-2.9],[4,-2.9],[6,-3.0],[7.5,-3.0]],
 [[0,-3.4],[1,-3.4],[2.1,-2.8],[3.2,-2.6],[5,-2.6],[6.8,-2.5]],
 [[0,-3.7],[1.2,-3.7],[2.6,-3.0],[4.2,-2.8],[6.5,-2.9]],
 [[0,-3.5],[1.1,-3.5],[2.3,-2.9],[3.6,-2.8],[6,-2.7],[7.2,-2.8]]
];
const n7_cores = [
 [[[0.3,-100],[6.2,0],[4.9,0],[0,-78],[0,-100]]],
 [[[0,-62],[4.7,0],[9.5,0],[6.5,-18],[4.2,-62],[1.5,-100],[0,-100]]],
 [[[1.8,-2.9],[2.8,-1.0],[4,1.5],[5,3.0],[5.8,3.35],[11,3.3],[13,3.1],[11,2.9],[9.2,2.7],[8,2.0],[6.5,0],[5,-1.6],[3.2,-2.7]]],
 [[[0,-3.3],[1,-3.3],[2,-2.8],[3,-2.4],[7,-2.3],[7.5,-2.7],[6,-3.0],[3,-3.0],[2,-3.4],[1,-3.8],[0,-3.85]]]
];

const panelData = [
 [z3_veh1, z3_veh2, z3_ped1, z3_ped2, z3_cores], [z4_veh1, z4_veh2, z4_ped1, z4_ped2, z4_cores],
 [z5_veh1, z5_veh2, z5_ped1, z5_ped2, z5_cores], [z6_veh1, z6_veh2, z6_ped1, z6_ped2, z6_cores],
 [z7_veh1, z7_veh2, z7_ped1, z7_ped2, z7_cores],
 [n3_veh1, n3_veh2, n3_ped1, n3_ped2, n3_cores], [n4_veh1, n4_veh2, n4_ped1, n4_ped2, n4_cores],
 [n5_veh1, n5_veh2, n5_ped1, n5_ped2, n5_cores], [n6_veh1, n6_veh2, n6_ped1, n6_ped2, n6_cores],
 [n7_veh1, n7_veh2, n7_ped1, n7_ped2, n7_cores]
];

// ---------- layout (plot area boxes: left, top, right, bottom) ----------
const plotBoxes = [
 [95,38,296,232],[333,38,541,240],[582,38,789,240],[828,38,1036,240],[1072,38,1279,240],
 [90,275,291,470],[333,270,538,469],[580,270,786,469],[828,270,1033,469],[1075,270,1280,469]
];
const COL = {
  veh1: 'rgba(255,222,0,0.85)', veh2: 'rgba(255,140,0,0.78)',
  ped1: 'rgba(0,112,0,0.72)', ped2: 'rgba(25,200,25,0.75)',
  veh1F: 'rgba(255,222,0,0.72)', veh2F: 'rgba(255,140,0,0.66)',
  ped1F: 'rgba(0,110,0,0.7)', ped2F: 'rgba(25,200,25,0.65)',
  veh1L: '#ffe100', veh2L: '#ff8c00', ped1L: '#007000', ped2L: '#1ec81e'
};
const FONT = 'DejaVu Sans';
const fmt = v => (v < 0 ? '\u2212' + Math.abs(v) : String(v));

const bgPlugin = {
  id: 'bgFrame',
  beforeDraw(chart) {
    const a = chart.chartArea, c = chart.ctx;
    c.save(); c.fillStyle = '#f2f2f2'; c.fillRect(a.left, a.top, a.right - a.left, a.bottom - a.top); c.restore();
  },
  afterDraw(chart, args, opts) {
    const a = chart.chartArea, c = chart.ctx;
    c.save(); c.strokeStyle = '#bdbdbd'; c.lineWidth = 1;
    c.strokeRect(Math.round(a.left) + 0.5, Math.round(a.top) + 0.5, Math.round(a.right - a.left) - 1, Math.round(a.bottom - a.top) - 1);
    if (opts.title) {
      c.font = '18px "' + FONT + '"'; c.fillStyle = '#000'; c.textAlign = 'center'; c.textBaseline = 'alphabetic';
      c.fillText(opts.title, (a.left + a.right) / 2, 33.3);
    }
    c.restore();
  }
};
const rightTitlePlugin = {
  id: 'rightTitle',
  afterDraw(chart, args, opts) {
    if (!opts.text) return;
    const a = chart.chartArea, c = chart.ctx;
    c.save();
    c.translate(opts.x, (a.top + a.bottom) / 2);
    c.rotate(-Math.PI / 2);
    c.font = '14px "' + FONT + '"'; c.fillStyle = '#000'; c.textAlign = 'center'; c.textBaseline = 'middle';
    c.fillText(opts.text, 0, 0);
    c.restore();
  }
};
const legendPlugin = {
  id: 'boxLegend',
  afterDraw(chart, args, opts) {
    if (!opts.show) return;
    const c = chart.ctx;
    const x0 = 155, y0 = 162, w = 140, h = 65, r = 3;
    c.save();
    c.beginPath();
    c.moveTo(x0 + r, y0); c.lineTo(x0 + w - r, y0); c.quadraticCurveTo(x0 + w, y0, x0 + w, y0 + r);
    c.lineTo(x0 + w, y0 + h - r); c.quadraticCurveTo(x0 + w, y0 + h, x0 + w - r, y0 + h);
    c.lineTo(x0 + r, y0 + h); c.quadraticCurveTo(x0, y0 + h, x0, y0 + h - r);
    c.lineTo(x0, y0 + r); c.quadraticCurveTo(x0, y0, x0 + r, y0); c.closePath();
    c.fillStyle = 'rgba(255,255,255,0.85)'; c.fill();
    c.strokeStyle = '#cccccc'; c.lineWidth = 1; c.stroke();
    const cols = [COL.ped1L, COL.ped2L, COL.veh1L, COL.veh2L];
    const ys = [171.7, 186.8, 202.2, 217.6];
    c.font = '10.5px "' + FONT + '"'; c.textBaseline = 'middle'; c.textAlign = 'left';
    legendLabels.forEach((lab, i) => {
      c.strokeStyle = cols[i]; c.lineWidth = 4; c.lineCap = 'butt';
      c.beginPath(); c.moveTo(158, ys[i]); c.lineTo(183, ys[i]); c.stroke();
      c.fillStyle = '#222'; c.fillText(lab, 190, ys[i] + 0.5);
    });
    c.restore();
  }
};

function trajSets(list, color, axis, order, label) {
  return list.map(tr => ({
    label: label,
    data: tr.map(p => ({x: p[0], y: p[1]})),
    borderColor: color, borderWidth: 1.2, pointRadius: 0, fill: false,
    cubicInterpolationMode: 'monotone', yAxisID: axis, order: order
  }));
}
function coreSets(list, color, axis, order, label) {
  return list.map(poly => ({
    label: label,
    data: poly.map(p => ({x: p[0], y: p[1]})),
    borderColor: 'rgba(0,0,0,0)', borderWidth: 0.1, pointRadius: 0,
    backgroundColor: color, fill: 'shape', tension: 0, yAxisID: axis, order: order
  }));
}

const wrap = document.getElementById('wrap');
plotBoxes.forEach((box, idx) => {
  const row = Math.floor(idx / 5), col = idx % 5;
  const [pl, pt, pr, pb] = box;
  const Lw = col === 0 ? pl : 10;
  const Rw = col === 4 ? 1331 - pr : 10;
  const Th = row === 0 ? pt : 12;
  const Bh = row === 0 ? 12 : 504 - pb;
  const cw = (pr - pl) + Lw + Rw, ch = (pb - pt) + Th + Bh;
  const cv = document.createElement('canvas');
  cv.width = cw; cv.height = ch;
  cv.style.left = (pl - Lw) + 'px'; cv.style.top = (pt - Th) + 'px';
  cv.style.width = cw + 'px'; cv.style.height = ch + 'px';
  wrap.appendChild(cv);
  const [v1, v2, p1, p2, cores] = panelData[idx];
  const datasets = [].concat(
    trajSets(p2, COL.ped2, 'yp', 0, legendLabels[1]),
    coreSets(cores[3], COL.ped2F, 'yp', 0.5, legendLabels[1]),
    trajSets(p1, COL.ped1, 'yp', 1, legendLabels[0]),
    coreSets(cores[2], COL.ped1F, 'yp', 1.5, legendLabels[0]),
    trajSets(v1, COL.veh1, 'y', 2, legendLabels[2]),
    coreSets(cores[0], COL.veh1F, 'y', 2.5, legendLabels[2]),
    trajSets(v2, COL.veh2, 'y', 3, legendLabels[3]),
    coreSets(cores[1], COL.veh2F, 'y', 3.5, legendLabels[3])
  );
  new Chart(cv, {
    type: 'line',
    data: { datasets },
    options: {
      responsive: false, animation: false, devicePixelRatio: 1,
      layout: { padding: { top: Th, left: 0, right: 0, bottom: 0 } },
      plugins: {
        legend: { display: false }, tooltip: { enabled: false }, title: { display: false },
        bgFrame: { title: row === 0 ? 'TTA = ' + ttaValues[col] + ' s' : '' },
        rightTitle: { text: col === 4 ? 'Pedestrian position (m)' : '', x: (row === 0 ? 1315 : 1313) - (pl - Lw) },
        boxLegend: { show: idx === 0 }
      },
      scales: {
        x: {
          type: 'linear', min: 0, max: 20,
          afterBuildTicks: s => { s.ticks = timeTicks.map(v => ({ value: v })); },
          ticks: { display: row === 1, color: '#000', font: { family: FONT, size: 14 }, padding: 2, maxRotation: 0, autoSkip: false },
          grid: { color: '#d9d9d9', lineWidth: 1, drawTicks: false },
          border: { display: false },
          title: { display: row === 1, text: 'Time (s)', color: '#000', font: { family: FONT, size: 14 }, padding: { top: 0, bottom: 0.6 } },
          afterFit: s => { s.height = Bh; s.paddingLeft = 0; s.paddingRight = 0; }
        },
        y: {
          type: 'linear', position: 'left', min: -100, max: 0,
          afterBuildTicks: s => { s.ticks = vehTicks.map(v => ({ value: v })); },
          ticks: { display: col === 0, color: '#000', font: { family: FONT, size: 14 }, padding: 5, callback: fmt },
          grid: { color: '#d9d9d9', lineWidth: 1, drawTicks: false },
          border: { display: false },
          title: { display: col === 0, text: 'Vehicle position (m)', color: '#000', font: { family: FONT, size: 14 },
                   padding: { top: row === 0 ? 34.6 : 33.3, bottom: 0 } },
          afterFit: s => { s.width = Lw; s.paddingTop = 0; s.paddingBottom = 0; }
        },
        yp: {
          type: 'linear', position: 'right', min: -5, max: 5,
          afterBuildTicks: s => { s.ticks = pedTicks.map(v => ({ value: v })); },
          ticks: { display: col === 4, color: '#000', font: { family: FONT, size: 14 }, padding: 1, callback: fmt },
          grid: { drawOnChartArea: false, drawTicks: true, tickLength: 4, color: '#777' },
          border: { display: false },
          afterFit: s => { s.width = Rw; s.paddingTop = 0; s.paddingBottom = 0; }
        }
      }
    },
    plugins: [bgPlugin, rightTitlePlugin, legendPlugin]
  });
});
</script>
</body></html>
